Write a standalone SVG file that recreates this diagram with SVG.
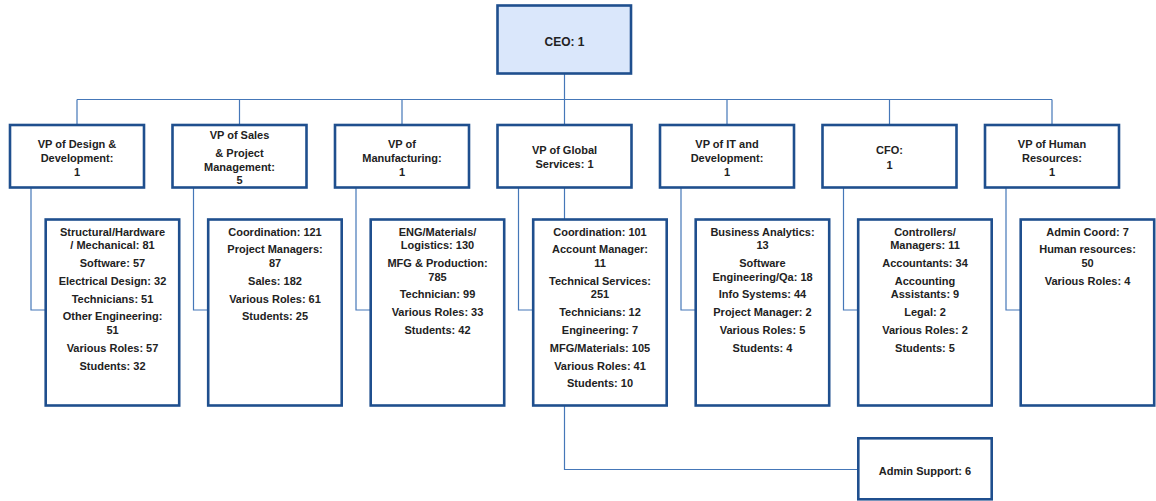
<svg xmlns="http://www.w3.org/2000/svg" width="1156" height="501" viewBox="0 0 1156 501">
<style>
.box{fill:#ffffff;stroke:#1f4f8e;stroke-width:2.6}
.ceo{fill:#dae7fb;stroke:#1f4f8e;stroke-width:2.6}
.conn{fill:none;stroke:#4577b8;stroke-width:1.2}
text{font-family:"Liberation Sans",Arial,sans-serif;font-size:11px;font-weight:bold;fill:#222222;text-anchor:middle}
.big{font-size:12px}
</style>
<rect width="1156" height="501" fill="#ffffff"/>
<g id="connectors">
<path class="conn" d="M564.5,73.5 V125 M77,99.5 H1052 M77,99.5 V125 M239.5,99.5 V125 M402,99.5 V125 M727,99.5 V125 M889.5,99.5 V125 M1052,99.5 V125"/>
<path class="conn" d="M31,187.5 V310 H45.7 M193.5,187.5 V310 H208.2 M356,187.5 V310 H370.7 M518.5,187.5 V310 H533.2 M681,187.5 V310 H695.7 M843.5,187.5 V310 H858.2 M1006,187.5 V310 H1020.7"/>
<path class="conn" d="M564.5,187.5 V469.5 H858.3"/>
</g>
<g id="ceo">
<rect class="ceo" x="497.5" y="5.5" width="133.5" height="68"/>
<text class="big" x="564.5" y="45.5">CEO: 1</text>
</g>
<g id="vp-design">
<rect class="box" x="10" y="125" width="134" height="62.5"/>
<text><tspan x="77" y="147.5">VP of Design &amp;</tspan><tspan x="77" y="161.5">Development:</tspan><tspan x="77" y="175.5">1</tspan></text>
</g>
<g id="vp-sales">
<rect class="box" x="172.5" y="125" width="134" height="62.5"/>
<text><tspan x="239.5" y="139">VP of Sales</tspan><tspan x="239.5" y="156.5">&amp; Project</tspan><tspan x="239.5" y="170.5">Management:</tspan><tspan x="239.5" y="184">5</tspan></text>
</g>
<g id="vp-manufacturing">
<rect class="box" x="335" y="125" width="134" height="62.5"/>
<text><tspan x="402" y="147.5">VP of</tspan><tspan x="402" y="161.5">Manufacturing:</tspan><tspan x="402" y="175.5">1</tspan></text>
</g>
<g id="vp-global">
<rect class="box" x="497.5" y="125" width="134" height="62.5"/>
<text><tspan x="564.5" y="154">VP of Global</tspan><tspan x="564.5" y="168">Services: 1</tspan></text>
</g>
<g id="vp-it">
<rect class="box" x="660" y="125" width="134" height="62.5"/>
<text><tspan x="727" y="147.5">VP of IT and</tspan><tspan x="727" y="161.5">Development:</tspan><tspan x="727" y="175.5">1</tspan></text>
</g>
<g id="cfo">
<rect class="box" x="822.5" y="125" width="134" height="62.5"/>
<text><tspan x="889.5" y="154">CFO:</tspan><tspan x="889.5" y="168.5">1</tspan></text>
</g>
<g id="vp-hr">
<rect class="box" x="985" y="125" width="134" height="62.5"/>
<text><tspan x="1052" y="147.5">VP of Human</tspan><tspan x="1052" y="161.5">Resources:</tspan><tspan x="1052" y="175.5">1</tspan></text>
</g>
<g id="design-staff">
<rect class="box" x="45.7" y="219.5" width="133.5" height="186"/>
<text><tspan x="112.5" y="235.5">Structural/Hardware</tspan><tspan x="112.5" y="249.1">/ Mechanical: 81</tspan><tspan x="112.5" y="266.9">Software: 57</tspan><tspan x="112.5" y="284.7">Electrical Design: 32</tspan><tspan x="112.5" y="302.5">Technicians: 51</tspan><tspan x="112.5" y="320.3">Other Engineering:</tspan><tspan x="112.5" y="333.9">51</tspan><tspan x="112.5" y="351.7">Various Roles: 57</tspan><tspan x="112.5" y="369.5">Students: 32</tspan></text>
</g>
<g id="sales-staff">
<rect class="box" x="208.2" y="219.5" width="133.5" height="186"/>
<text><tspan x="275" y="235.5">Coordination: 121</tspan><tspan x="275" y="253.3">Project Managers:</tspan><tspan x="275" y="266.9">87</tspan><tspan x="275" y="284.7">Sales: 182</tspan><tspan x="275" y="302.5">Various Roles: 61</tspan><tspan x="275" y="320.3">Students: 25</tspan></text>
</g>
<g id="manufacturing-staff">
<rect class="box" x="370.7" y="219.5" width="133.5" height="186"/>
<text><tspan x="437.5" y="235.5">ENG/Materials/</tspan><tspan x="437.5" y="249.1">Logistics: 130</tspan><tspan x="437.5" y="266.9">MFG &amp; Production:</tspan><tspan x="437.5" y="280.5">785</tspan><tspan x="437.5" y="298.3">Technician: 99</tspan><tspan x="437.5" y="316.1">Various Roles: 33</tspan><tspan x="437.5" y="333.9">Students: 42</tspan></text>
</g>
<g id="global-staff">
<rect class="box" x="533.2" y="219.5" width="133.5" height="186"/>
<text><tspan x="600" y="235.5">Coordination: 101</tspan><tspan x="600" y="253.3">Account Manager:</tspan><tspan x="600" y="266.9">11</tspan><tspan x="600" y="284.7">Technical Services:</tspan><tspan x="600" y="298.3">251</tspan><tspan x="600" y="316.1">Technicians: 12</tspan><tspan x="600" y="333.9">Engineering: 7</tspan><tspan x="600" y="351.7">MFG/Materials: 105</tspan><tspan x="600" y="369.5">Various Roles: 41</tspan><tspan x="600" y="387.3">Students: 10</tspan></text>
</g>
<g id="it-staff">
<rect class="box" x="695.7" y="219.5" width="133.5" height="186"/>
<text><tspan x="762.5" y="235.5">Business Analytics:</tspan><tspan x="762.5" y="249.1">13</tspan><tspan x="762.5" y="266.9">Software</tspan><tspan x="762.5" y="280.5">Engineering/Qa: 18</tspan><tspan x="762.5" y="298.3">Info Systems: 44</tspan><tspan x="762.5" y="316.1">Project Manager: 2</tspan><tspan x="762.5" y="333.9">Various Roles: 5</tspan><tspan x="762.5" y="351.7">Students: 4</tspan></text>
</g>
<g id="finance-staff">
<rect class="box" x="858.2" y="219.5" width="133.5" height="186"/>
<text><tspan x="925" y="235.5">Controllers/</tspan><tspan x="925" y="249.1">Managers: 11</tspan><tspan x="925" y="266.9">Accountants: 34</tspan><tspan x="925" y="284.7">Accounting</tspan><tspan x="925" y="298.3">Assistants: 9</tspan><tspan x="925" y="316.1">Legal: 2</tspan><tspan x="925" y="333.9">Various Roles: 2</tspan><tspan x="925" y="351.7">Students: 5</tspan></text>
</g>
<g id="hr-staff">
<rect class="box" x="1020.7" y="219.5" width="133.5" height="186"/>
<text><tspan x="1087.5" y="235.5">Admin Coord: 7</tspan><tspan x="1087.5" y="253.3">Human resources:</tspan><tspan x="1087.5" y="266.9">50</tspan><tspan x="1087.5" y="284.7">Various Roles: 4</tspan></text>
</g>
<g id="admin-support">
<rect class="box" x="858.3" y="438.3" width="133.4" height="61"/>
<text x="925" y="474.5">Admin Support: 6</text>
</g>
</svg>
